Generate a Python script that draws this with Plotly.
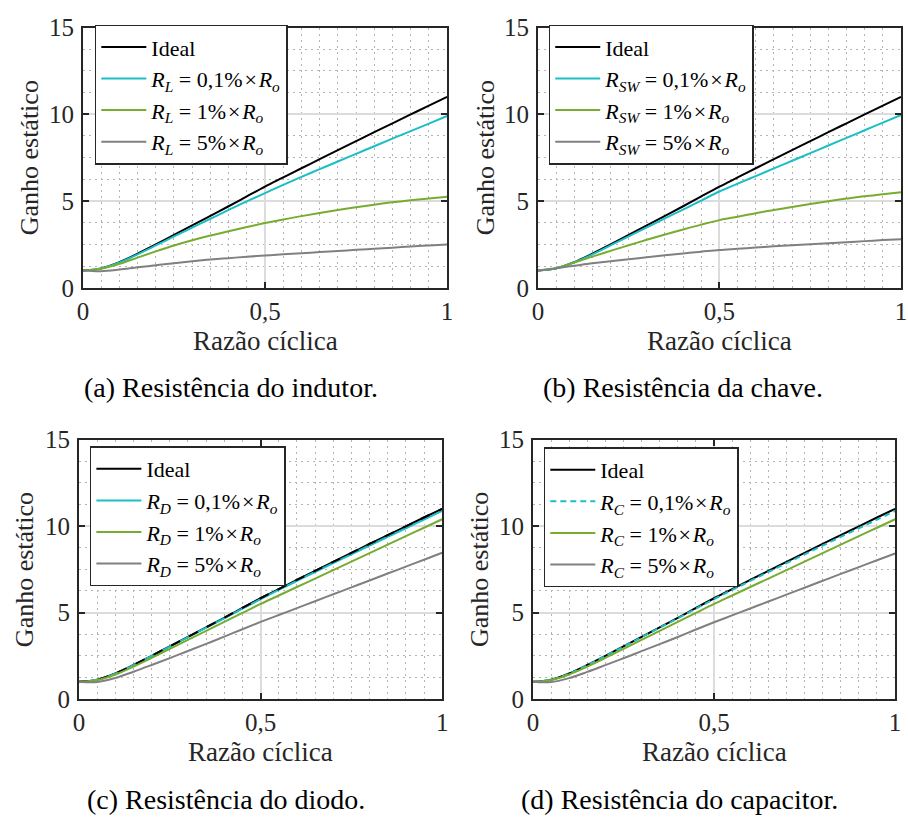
import plotly.graph_objects as go

FONT = "'Liberation Serif', 'DejaVu Serif', serif"
W, H = 908, 834

# ---- data ----
D = [0.00, 0.05, 0.10, 0.15, 0.20, 0.25, 0.30, 0.35, 0.40, 0.45, 0.50,
     0.55, 0.60, 0.65, 0.70, 0.75, 0.80, 0.85, 0.90, 0.95, 1.00]

IDEAL = [1.00, 1.12, 1.48, 1.97, 2.50, 3.05, 3.60, 4.15, 4.70, 5.27, 5.83,
         6.36, 6.89, 7.41, 7.93, 8.45, 8.97, 9.48, 9.99, 10.50, 11.00]

# (a) inductor resistance
A_01 = [1.00, 1.12, 1.46, 1.93, 2.44, 2.96, 3.47, 3.98, 4.49, 4.98, 5.46,
        5.93, 6.39, 6.84, 7.28, 7.72, 8.16, 8.60, 9.03, 9.46, 9.90]
A_1 = [1.00, 1.10, 1.38, 1.74, 2.10, 2.44, 2.74, 3.01, 3.26, 3.50, 3.73,
       3.94, 4.13, 4.31, 4.48, 4.64, 4.79, 4.93, 5.04, 5.15, 5.25]
A_5 = [1.00, 0.96, 1.05, 1.18, 1.30, 1.42, 1.53, 1.63, 1.71, 1.79, 1.86,
       1.93, 1.99, 2.06, 2.12, 2.19, 2.25, 2.31, 2.38, 2.44, 2.50]

# (b) switch resistance
B_01 = [1.00, 1.13, 1.47, 1.93, 2.44, 2.96, 3.48, 4.00, 4.51, 5.03, 5.55,
        6.00, 6.44, 6.88, 7.32, 7.76, 8.20, 8.64, 9.08, 9.52, 9.96]
B_1 = [1.00, 1.12, 1.45, 1.80, 2.13, 2.45, 2.77, 3.07, 3.36, 3.64, 3.90,
       4.10, 4.30, 4.48, 4.66, 4.83, 4.99, 5.14, 5.28, 5.39, 5.50]
B_5 = [1.00, 1.13, 1.27, 1.41, 1.53, 1.65, 1.76, 1.87, 1.98, 2.08, 2.18,
       2.25, 2.32, 2.39, 2.45, 2.51, 2.57, 2.63, 2.69, 2.75, 2.80]

# (c) diode resistance
C_01 = [1.00, 1.12, 1.47, 1.96, 2.49, 3.03, 3.58, 4.13, 4.67, 5.23, 5.78,
        6.31, 6.83, 7.35, 7.86, 8.37, 8.88, 9.38, 9.88, 10.38, 10.88]
C_1 = [1.00, 1.10, 1.42, 1.88, 2.38, 2.90, 3.42, 3.94, 4.46, 4.98, 5.50,
       5.99, 6.48, 6.97, 7.46, 7.95, 8.44, 8.93, 9.42, 9.91, 10.40]
C_5 = [1.00, 0.98, 1.22, 1.58, 1.97, 2.37, 2.78, 3.19, 3.61, 4.04, 4.46,
       4.86, 5.26, 5.66, 6.06, 6.46, 6.86, 7.26, 7.66, 8.06, 8.46]

# (d) capacitor resistance
D_01 = [1.00, 1.12, 1.47, 1.96, 2.49, 3.03, 3.58, 4.13, 4.67, 5.23, 5.78,
        6.31, 6.83, 7.35, 7.86, 8.37, 8.88, 9.38, 9.88, 10.38, 10.88]
D_1 = [1.00, 1.10, 1.42, 1.88, 2.38, 2.90, 3.42, 3.94, 4.46, 4.98, 5.50,
       5.99, 6.48, 6.97, 7.46, 7.95, 8.44, 8.93, 9.42, 9.91, 10.40]
D_5 = [1.00, 0.98, 1.21, 1.57, 1.96, 2.36, 2.77, 3.18, 3.59, 4.02, 4.44,
       4.84, 5.24, 5.64, 6.04, 6.44, 6.84, 7.24, 7.63, 8.03, 8.42]

SUBS = ["L", "SW", "D", "C"]
PCTS = ["0,1%", "1%", "5%"]
CAPTIONS = ["(a) Resistência do indutor.", "(b) Resistência da chave.",
            "(c) Resistência do diodo.", "(d) Resistência do capacitor."]
SERIES = [[A_01, A_1, A_5], [B_01, B_1, B_5], [C_01, C_1, C_5], [D_01, D_1, D_5]]
X_TICKS = [0, 0.5, 1]
X_TICKTEXT = ["0", "0,5", "1"]
Y_TICKS = [0, 5, 10, 15]
XLABEL = "Razão cíclica"
YLABEL = "Ganho estático"

# ---- styling / layout (pixels) ----
BLACK = "#000000"
CYAN = "#1ABFC6"
GREEN = "#77AC30"
GRAY = "#808080"
AX = "#262626"

# plot boxes: left, right, top, bottom (px)
BOXES = [(78, 447, 15, 284), (539, 907, 15, 284), (74, 442, 441, 709), (534, 901, 441, 709)]
LEG_POS = [(90, 12), (550, 12), (85, 448), (545, 449)]
YLAB_X = [24, 486, 19, 480]
CAP_POS = [(228, 387), (686, 387), (223, 813), (683, 813)]
TS = "&#8202;"


def px(x):
    return x / W


def py(y):
    return 1 - y / H


fig = go.Figure()
annotations = []
layout = {}

for i in range(4):
    n = "" if i == 0 else str(i + 1)
    xa, ya = "x" + n, "y" + n
    leg = "legend" + n
    l, r, t, b = BOXES[i]
    s01, s1, s5 = SERIES[i]
    sub = SUBS[i]

    def lab(p):
        return ("<i>R</i><sub><i>%s</i></sub> = %s%s×%s<i>R</i><sub><i>o</i></sub>"
                % (sub, p, TS, TS))

    fig.add_trace(go.Scatter(x=D, y=IDEAL, mode="lines", name="Ideal",
                             line=dict(color=BLACK, width=2, shape="spline"),
                             xaxis=xa, yaxis=ya, legend=leg))
    cy_dash = "solid" if i != 3 else "6px,4px"
    fig.add_trace(go.Scatter(x=D, y=s01, mode="lines", name=lab(PCTS[0]),
                             line=dict(color=CYAN, width=2, shape="spline", dash=cy_dash),
                             xaxis=xa, yaxis=ya, legend=leg))
    if i == 2:
        fig.add_trace(go.Scatter(x=D, y=IDEAL, mode="lines", showlegend=False,
                                 line=dict(color=BLACK, width=2, shape="spline", dash="10px,10px"),
                                 xaxis=xa, yaxis=ya, hoverinfo="skip"))
    fig.add_trace(go.Scatter(x=D, y=s1, mode="lines", name=lab(PCTS[1]),
                             line=dict(color=GREEN, width=2, shape="spline"),
                             xaxis=xa, yaxis=ya, legend=leg))
    fig.add_trace(go.Scatter(x=D, y=s5, mode="lines", name=lab(PCTS[2]),
                             line=dict(color=GRAY, width=2, shape="spline"),
                             xaxis=xa, yaxis=ya, legend=leg))

    common = dict(ticks="inside", ticklen=6, tickwidth=1.5, tickcolor=AX,
                  showline=True, linecolor=AX, linewidth=2, mirror="ticks",
                  showgrid=True, gridcolor="#dcdcdc", gridwidth=1.5, zeroline=False,
                  tickfont=dict(family=FONT, size=25, color=AX), fixedrange=True)
    layout["xaxis" + n] = dict(common, range=[0, 1], tickvals=X_TICKS, ticktext=X_TICKTEXT,
                               domain=[px(l), px(r)], anchor=ya, ticklabelstandoff=0,
                               minor=dict(dtick=0.05, tick0=0, showgrid=True, gridcolor="#b4b4b4",
                                          griddash="2px,4px", gridwidth=1, ticks=""))
    layout["yaxis" + n] = dict(common, range=[0, 15], tickvals=Y_TICKS,
                               domain=[py(b), py(t)], anchor=xa, ticklabelstandoff=2,
                               minor=dict(dtick=1.25, tick0=0, showgrid=True, gridcolor="#b4b4b4",
                                          griddash="2px,4px", gridwidth=1, ticks=""))
    lx, ly = LEG_POS[i]
    layout[leg] = dict(x=px(lx), y=py(ly), xanchor="left", yanchor="top",
                       bgcolor="white", bordercolor=AX, borderwidth=1.5,
                       font=dict(family=FONT, size=22, color="black"),
                       itemwidth=45, tracegroupgap=0)
    # axis titles + captions
    annotations.append(dict(text=YLABEL, x=px(YLAB_X[i]), y=py((t + b) / 2), xref="paper", yref="paper",
                            textangle=-90, showarrow=False, xanchor="center", yanchor="middle",
                            font=dict(family=FONT, size=26, color=AX)))
    annotations.append(dict(text=XLABEL, x=px((l + r) / 2), y=py(b + 55), xref="paper", yref="paper",
                            showarrow=False, xanchor="center", yanchor="middle",
                            font=dict(family=FONT, size=27, color=AX)))
    cx, cyy = CAP_POS[i]
    annotations.append(dict(text=CAPTIONS[i], x=px(cx), y=py(cyy), xref="paper", yref="paper",
                            showarrow=False, xanchor="center", yanchor="middle",
                            font=dict(family=FONT, size=28, color="black")))

fig.update_layout(width=W, height=H, margin=dict(l=0, r=0, t=0, b=0),
                  paper_bgcolor="white", plot_bgcolor="white",
                  font=dict(family=FONT),
                  annotations=annotations, **layout)

fig.write_html("out.html")
